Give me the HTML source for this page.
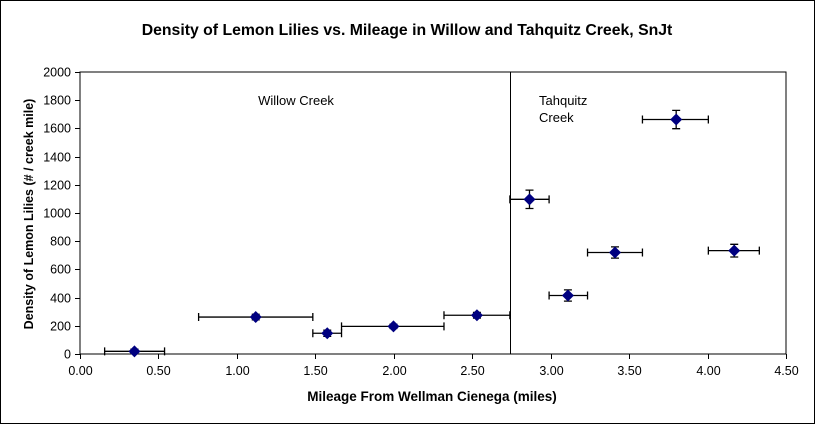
<!DOCTYPE html>
<html><head><meta charset="utf-8"><style>
body{margin:0;background:#fff}
svg text{font-family:"Liberation Sans",Arial,sans-serif}
</style></head><body>
<svg id="c" width="815" height="424" xmlns="http://www.w3.org/2000/svg">
<rect x="0.5" y="0.5" width="814" height="423" fill="#fff" stroke="#000"/>
<text x="407" y="35" text-anchor="middle" font-size="15.8" font-weight="bold">Density of Lemon Lilies vs. Mileage in Willow and Tahquitz Creek, SnJt</text>
<text transform="translate(33,214) rotate(-90)" text-anchor="middle" font-size="12.5" font-weight="bold">Density of Lemon Lilies (# / creek mile)</text>
<text x="432" y="401" text-anchor="middle" font-size="13.5" font-weight="bold">Mileage From Wellman Cienega (miles)</text>
<text x="296" y="105" text-anchor="middle" font-size="13">Willow Creek</text>
<text x="539" y="105" font-size="13">Tahquitz</text>
<text x="539" y="122" font-size="13">Creek</text>
<g id="axes"></g><g id="marks"></g>
</svg>
<script>
const xVals=[0.347,1.12,1.576,1.998,2.53,2.865,3.11,3.41,3.80,4.17];
const yVals=[19,262,147,196,275,1097,415,720,1663,733];
const xLo=[0.157,0.756,1.484,1.667,2.32,2.74,2.99,3.235,3.585,4.005];
const xHi=[0.539,1.484,1.667,2.32,2.74,2.99,3.235,3.585,4.005,4.33];
const yErr=[15,20,22,15,20,65,40,40,65,45];
const xTicks=[0,0.5,1,1.5,2,2.5,3,3.5,4,4.5];
const yTicks=[0,200,400,600,800,1000,1200,1400,1600,1800,2000];
const divider=[2.74];
const L=80,R=786,T=72,B=354;
const sx=v=>L+v/4.5*(R-L), sy=v=>B-v/2000*(B-T);
const NS="http://www.w3.org/2000/svg";
function mk(t,a,p){const e=document.createElementNS(NS,t);for(const k in a)e.setAttribute(k,a[k]);p.appendChild(e);return e;}
const ax=document.getElementById('axes'),mg=document.getElementById('marks');
const box=mk('rect',{x:L,y:T,width:R-L,height:B-T,fill:'none',stroke:'#000'},ax);


yTicks.forEach(v=>{const y=Math.round(sy(v))+0.5;
 const l=mk('line',{x1:L-5,x2:L,y1:y,y2:y,stroke:'#000'},ax);
 
 
 const t=mk('text',{x:L-9,y:y+4,'text-anchor':'end','font-size':12.5},ax);t.textContent=v;
 
 });
xTicks.forEach(v=>{const x=Math.round(sx(v))+0.5;
 const l=mk('line',{x1:x,x2:x,y1:B,y2:B+5,stroke:'#000'},ax);
 
 
 const t=mk('text',{x:x,y:B+21,'text-anchor':'middle','font-size':12.5},ax);t.textContent=v.toFixed(2);
 
 });
divider.forEach(v=>{const x=Math.round(sx(v))+0.5;
 const l=mk('line',{x1:x,x2:x,y1:T,y2:B,stroke:'#000'},ax);
 
 });
xVals.forEach((v,i)=>{const cx=sx(v),cy=sy(yVals[i]);
 const g=mk('g',{},mg);
 
 
 const x1=sx(xLo[i]),x2=sx(xHi[i]),y1=sy(yVals[i]+yErr[i]),y2=sy(yVals[i]-yErr[i]);
 mk('path',{d:`M${x1},${cy}H${x2}M${x1},${cy-4}V${cy+4}M${x2},${cy-4}V${cy+4}M${cx},${y1}V${y2}M${cx-4},${y1}H${cx+4}M${cx-4},${y2}H${cx+4}`,stroke:'#000','stroke-width':1.3,fill:'none'},g);
 mk('path',{d:`M${cx},${cy-6}L${cx+6},${cy}L${cx},${cy+6}L${cx-6},${cy}Z`,fill:'#000080'},g);
});
</script>
</body></html>
